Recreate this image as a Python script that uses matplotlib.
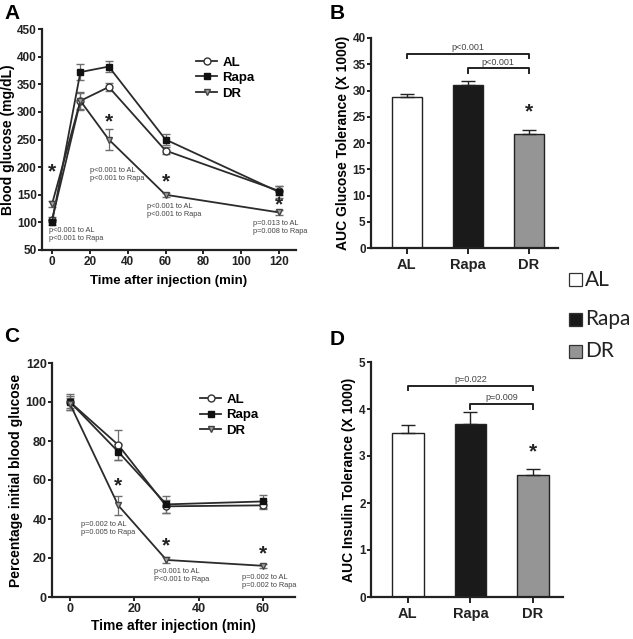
import matplotlib
matplotlib.use("Agg")
import matplotlib.pyplot as plt
from matplotlib.patches import Rectangle
from matplotlib.lines import Line2D

plt.rcParams['font.family'] = ['Liberation Sans', 'DejaVu Sans']

groups = ['AL', 'Rapa', 'DR']

# panel A: glucose tolerance
gtt_time = [0, 15, 30, 60, 120]
gtt_al = [105, 320, 345, 230, 157]
gtt_al_err = [5, 14, 8, 6, 8]
gtt_rapa = [100, 372, 382, 250, 155]
gtt_rapa_err = [4, 15, 10, 10, 10]
gtt_dr = [133, 320, 250, 150, 118]
gtt_dr_err = [5, 16, 19, 4, 5]

# panel B: AUC glucose
auc_gtt = [28.7, 31.0, 21.8]
auc_gtt_err = [0.6, 0.8, 0.6]

# panel C: insulin tolerance
itt_time = [0, 15, 30, 60]
itt_al = [100, 78, 46.5, 47]
itt_al_err = [3, 7.5, 3.5, 2]
itt_rapa = [100, 74.5, 47.5, 49]
itt_rapa_err = [4, 4, 4.5, 3.5]
itt_dr = [99, 47, 19, 16]
itt_dr_err = [3, 5, 1.5, 1]

# panel D: AUC insulin
auc_itt = [3.5, 3.68, 2.6]
auc_itt_err = [0.15, 0.25, 0.12]

bar_colors = ['white', '#1a1a1a', '#959595']
line_col = '#2b2b2b'
err_col = '#6e6e6e'
specs = [('AL', 'o', 'white', '#333333'),
         ('Rapa', 's', '#111111', '#111111'),
         ('DR', 'v', '#a0a0a0', '#444444')]

W, H = 633, 639
fig = plt.figure(figsize=(W / 100, H / 100), dpi=100)


def px_axes(l, t, r, b):
    return fig.add_axes([l / W, 1 - b / H, (r - l) / W, (b - t) / H])


def style(ax, size=8.5):
    for s in ['top', 'right']:
        ax.spines[s].set_visible(False)
    for s in ['left', 'bottom']:
        ax.spines[s].set_linewidth(1.6)
        ax.spines[s].set_color('#222222')
    ax.tick_params(width=1.4, length=3, pad=1.5, labelsize=size, colors='#222222')
    ax.tick_params(axis='y', pad=0.8)
    for lab in ax.get_xticklabels() + ax.get_yticklabels():
        lab.set_fontweight('bold')


def line_panel(ax, t, series):
    for (name, m, fc, ec), (y, e) in zip(specs, series):
        ax.errorbar(t, y, yerr=e, color=line_col, lw=1.3, marker=m, ms=5,
                    mfc=fc, mec=ec, mew=1.0, ecolor=err_col, elinewidth=0.9,
                    capsize=3, capthick=0.9)
    handles = [Line2D([], [], color=line_col, lw=1.3, marker=m, ms=5, mfc=fc,
                      mec=ec, mew=1.0) for (name, m, fc, ec) in specs]
    return handles


def bar_panel(ax, vals, errs):
    x = range(len(groups))
    ax.bar(x, vals, width=0.5, color=bar_colors, edgecolor='#222222', lw=1.0)
    ax.errorbar(x, vals, yerr=[[0] * 3, errs], fmt='none', ecolor='#222222',
                elinewidth=1.0, capsize=5, capthick=1.0)
    ax.set_xticks(list(x))
    ax.set_xticklabels(groups)
    ax.set_xlim(-0.59, 2.48)


def bracket(ax, x0, x1, y, h, text):
    ax.plot([x0, x0, x1, x1], [y - h, y, y, y - h], color='#222222', lw=1.4)
    ax.text((x0 + x1) / 2, y + h * 0.4, text, ha='center', va='bottom',
            fontsize=6.5, color='#444444')


ptxt = dict(fontsize=5.3, color='#444444', va='top', ha='left', linespacing=1.25)
star = dict(fontsize=15, fontweight='bold', ha='center', va='center', color='#222222')
leg_kw = dict(loc='upper left', frameon=False, handlelength=1.6, handletextpad=0.4,
              labelspacing=0.25, prop={'weight': 'bold', 'size': 9.5})

# A
axA = px_axes(42, 29, 296, 250)
hA = line_panel(axA, gtt_time, [(gtt_al, gtt_al_err), (gtt_rapa, gtt_rapa_err), (gtt_dr, gtt_dr_err)])
axA.set_xlim(-5.3, 129)
axA.set_ylim(50, 450)
axA.set_xticks([0, 20, 40, 60, 80, 100, 120])
axA.set_yticks(range(50, 451, 50))
axA.set_xlabel('Time after injection (min)', fontsize=9.5, fontweight='bold', labelpad=5)
axA.set_ylabel('Blood glucose (mg/dL)', fontsize=10, fontweight='bold', labelpad=1.5)
style(axA)
axA.legend(hA, groups, bbox_to_anchor=(0.56, 0.93), **leg_kw)
axA.text(-1.5, 92, 'p<0.001 to AL\np<0.001 to Rapa', **ptxt)
axA.text(20, 200, 'p<0.001 to AL\np<0.001 to Rapa', **ptxt)
axA.text(50, 135, 'p<0.001 to AL\np<0.001 to Rapa', **ptxt)
axA.text(106, 104, 'p=0.013 to AL\np=0.008 to Rapa', **ptxt)
for x, y in [(0, 192), (30, 282), (60, 173), (120, 131)]:
    axA.text(x, y, '*', **star)

# B
axB = px_axes(371, 38, 558, 248)
bar_panel(axB, auc_gtt, auc_gtt_err)
axB.set_ylim(0, 40)
axB.set_yticks(range(0, 41, 5))
axB.set_ylabel('AUC Glucose Tolerance (X 1000)', fontsize=10, fontweight='bold', labelpad=2)
style(axB)
axB.tick_params(axis='x', labelsize=10.5, length=4, pad=3)
bracket(axB, 0, 2, 37.0, 0.9, 'p<0.001')
bracket(axB, 1, 2, 34.2, 0.9, 'p<0.001')
axB.text(2, 26.0, '*', **star)

# C
axC = px_axes(52, 363, 295, 597)
hC = line_panel(axC, itt_time, [(itt_al, itt_al_err), (itt_rapa, itt_rapa_err), (itt_dr, itt_dr_err)])
axC.set_xlim(-5.6, 70)
axC.set_ylim(0, 120)
axC.set_xticks([0, 20, 40, 60])
axC.set_yticks(range(0, 121, 20))
axC.set_xlabel('Time after injection (min)', fontsize=10, fontweight='bold', labelpad=3)
axC.set_ylabel('Percentage initial blood glucose', fontsize=10, fontweight='bold', labelpad=2)
style(axC, size=9)
axC.legend(hC, groups, bbox_to_anchor=(0.56, 0.92), **leg_kw)
axC.text(3.5, 39, 'p=0.002 to AL\np=0.005 to Rapa', **ptxt)
axC.text(26, 15, 'p<0.001 to AL\nP<0.001 to Rapa', **ptxt)
axC.text(53.5, 12, 'p=0.002 to AL\np=0.002 to Rapa', **ptxt)
for x, y in [(15, 57), (30, 26), (60, 22)]:
    axC.text(x, y, '*', **star)

# D
axD = px_axes(371, 362, 563, 597)
bar_panel(axD, auc_itt, auc_itt_err)
axD.set_ylim(0, 5)
axD.set_yticks(range(0, 6))
axD.set_ylabel('AUC Insulin Tolerance (X 1000)', fontsize=10, fontweight='bold', labelpad=2)
style(axD)
axD.tick_params(axis='x', labelsize=10.5, length=4, pad=3)
bracket(axD, 0, 2, 4.5, 0.1, 'p=0.022')
bracket(axD, 1, 2, 4.1, 0.1, 'p=0.009')
axD.text(2, 3.08, '*', **star)

# shared legend on the right
for name, col, yc in zip(groups, bar_colors, [280, 319, 351]):
    fig.patches.append(Rectangle((569 / W, 1 - (yc + 6.5) / H), 13 / W, 13 / H,
                                 transform=fig.transFigure, facecolor=col,
                                 edgecolor='#333333', lw=0.9))
    fig.text(585 / W, 1 - yc / H, name, fontsize=15, family=['Lato', 'DejaVu Sans'],
             va='center', ha='left', color='#222222')

for lab, x, y in [('A', 4, 4), ('B', 330, 4), ('C', 4, 327), ('D', 330, 330)]:
    fig.text(x / W, 1 - y / H, lab, fontsize=15, fontweight='bold', va='top', ha='left')

fig.savefig('out.png', dpi=100)
